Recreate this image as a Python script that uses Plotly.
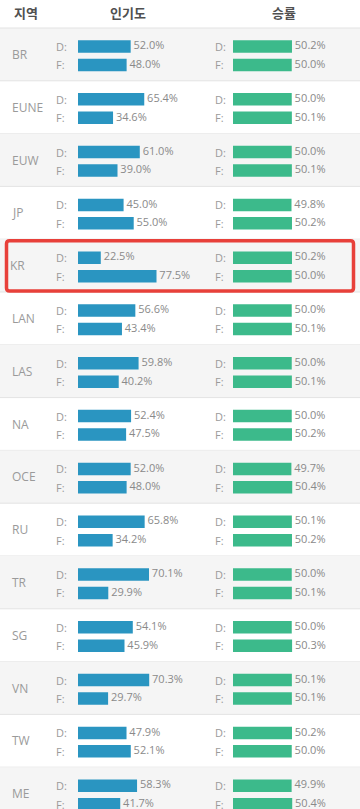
import plotly.graph_objects as go

W, H = 360, 809

regions = ["BR", "EUNE", "EUW", "JP", "KR", "LAN", "LAS", "NA", "OCE", "RU", "TR", "SG", "VN", "TW", "ME"]
pop_d = [52.0, 65.4, 61.0, 45.0, 22.5, 56.6, 59.8, 52.4, 52.0, 65.8, 70.1, 54.1, 70.3, 47.9, 58.3]
pop_f = [48.0, 34.6, 39.0, 55.0, 77.5, 43.4, 40.2, 47.5, 48.0, 34.2, 29.9, 45.9, 29.7, 52.1, 41.7]
win_d = [50.2, 50.0, 50.0, 49.8, 50.2, 50.0, 50.0, 50.0, 49.7, 50.1, 50.0, 50.0, 50.1, 50.2, 49.9]
win_f = [50.0, 50.1, 50.1, 50.2, 50.0, 50.1, 50.1, 50.2, 50.4, 50.2, 50.1, 50.3, 50.1, 50.0, 50.4]
headers = ["지역", "인기도", "승률"]
highlight = "KR"

BLUE = "#2a95c1"
GREEN = "#3cba8b"
FONT = "Open Sans, Noto Sans CJK KR, sans-serif"

# layout geometry (pixels)
HEADER_H = 28.0
ROW_H = 52.8
y_top = -(HEADER_H + ROW_H / 2) / ROW_H
y_bot = (H - HEADER_H - ROW_H / 2) / ROW_H
D_OFF, F_OFF = -0.15, 0.20
BAR_W = 12.5 / ROW_H

idx = list(range(len(regions)))
yd = [i + D_OFF for i in idx]
yf = [i + F_OFF for i in idx]

fig = go.Figure()

def add_bars(xvals, yvals, color, axis):
    fig.add_trace(go.Bar(
        x=xvals, y=yvals, orientation="h", width=BAR_W,
        marker=dict(color=color, line=dict(width=0)),
        xaxis=axis, yaxis="y", hoverinfo="skip", showlegend=False))
    fig.add_trace(go.Scatter(
        x=xvals, y=yvals, mode="text",
        text=[f"\u00a0{v:.1f}%" for v in xvals], textposition="middle right",
        textfont=dict(family=FONT, size=11, color="#8a8a8a"),
        xaxis=axis, yaxis="y", hoverinfo="skip", showlegend=False, cliponaxis=False))

add_bars(pop_d, yd, BLUE, "x")
add_bars(pop_f, yf, BLUE, "x")
add_bars(win_d, yd, GREEN, "x2")
add_bars(win_f, yf, GREEN, "x2")

shapes = []
annotations = []
k = regions.index(highlight)
for i, r in enumerate(regions):
    if i % 2 == 0:
        shapes.append(dict(type="rect", xref="paper", yref="y", x0=0, x1=1,
                           y0=i - 0.5, y1=i + 0.5, fillcolor="#f5f5f5",
                           line=dict(width=0), layer="below"))
    shapes.append(dict(type="line", xref="paper", yref="y", x0=0, x1=1,
                       y0=i + 0.5, y1=i + 0.5, line=dict(color="#e3e3e3", width=1),
                       layer="below"))
    annotations.append(dict(text=r, x=(8 if i == k else 10) / W, y=i, xref="paper", yref="y",
                            xanchor="left", yanchor="middle", showarrow=False,
                            font=dict(family=FONT, size=12, color="#9a9a9a")))
    for lx in (54, 213):
        annotations.append(dict(text="D:", x=lx / W, y=i + D_OFF, xref="paper", yref="y",
                                xanchor="left", yanchor="middle", showarrow=False,
                                font=dict(family=FONT, size=11, color="#9a9a9a")))
        annotations.append(dict(text="F:", x=lx / W, y=i + F_OFF, xref="paper", yref="y",
                                xanchor="left", yanchor="middle", showarrow=False,
                                font=dict(family=FONT, size=11, color="#9a9a9a")))

# header line
shapes.append(dict(type="line", xref="paper", yref="y", x0=0, x1=1,
                   y0=-0.5, y1=-0.5, line=dict(color="#e3e3e3", width=1), layer="below"))

# highlight box with rounded corners
x0, x1 = 6.5 / W, 353.5 / W
y0, y1 = k - 0.5 + 0.03, k + 0.5 - 0.02
rx, ry = 3 / W, 3 / ROW_H
path = (f"M {x0+rx},{y0} L {x1-rx},{y0} Q {x1},{y0} {x1},{y0+ry} "
        f"L {x1},{y1-ry} Q {x1},{y1} {x1-rx},{y1} L {x0+rx},{y1} "
        f"Q {x0},{y1} {x0},{y1-ry} L {x0},{y0+ry} Q {x0},{y0} {x0+rx},{y0} Z")
shapes.append(dict(type="path", xref="paper", yref="y", path=path,
                   line=dict(color="#e8403a", width=3.5), fillcolor="rgba(0,0,0,0)"))

for text, cx in zip(headers, [26, 128, 284]):
    annotations.append(dict(text=f"<b>{text}</b>", x=cx / W, y=1 - 13 / H, xref="paper",
                            yref="paper", xanchor="center", yanchor="middle", showarrow=False,
                            font=dict(family=FONT, size=13, color="#505050")))

fig.update_layout(
    width=W, height=H,
    margin=dict(l=0, r=0, t=0, b=0),
    paper_bgcolor="white", plot_bgcolor="rgba(0,0,0,0)",
    barmode="overlay",
    xaxis=dict(domain=[78 / W, (78 + 101.3) / W], range=[0, 100], visible=False, fixedrange=True),
    xaxis2=dict(domain=[233 / W, (233 + 117.5) / W], range=[0, 100], visible=False, fixedrange=True,
                anchor="y"),
    yaxis=dict(range=[y_bot, y_top], visible=False, fixedrange=True),
    shapes=shapes, annotations=annotations,
)

fig.write_html("out.html", config={"displayModeBar": False},
               post_script="document.body.style.margin='0';document.body.style.overflow='hidden';")
